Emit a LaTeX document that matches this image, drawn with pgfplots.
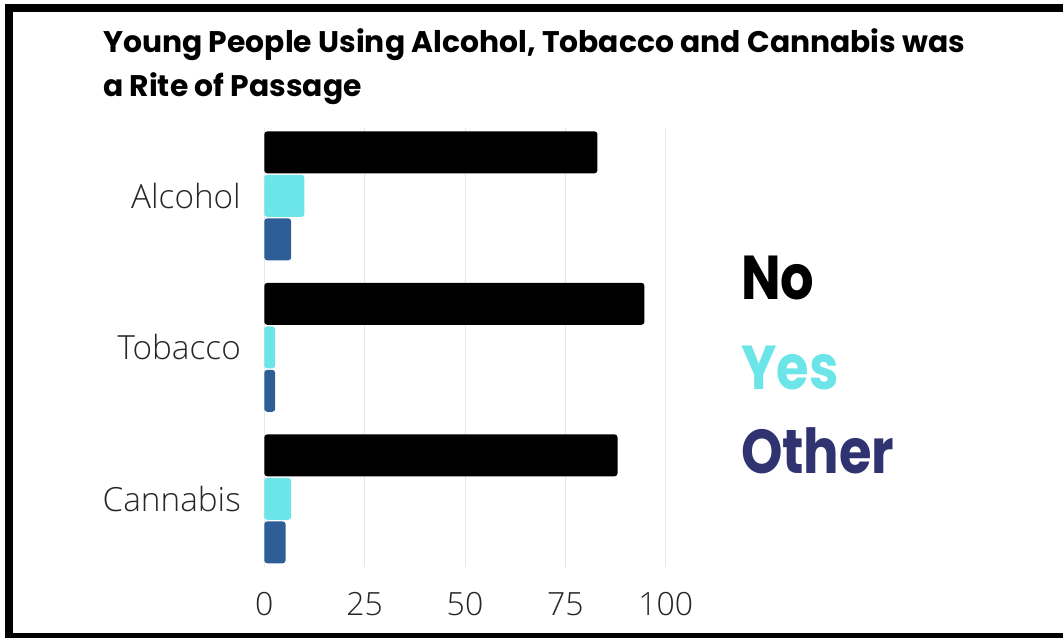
\documentclass[border=0pt]{standalone}
\usepackage{pgfplots}
\pgfplotsset{compat=1.18}
\usepackage{fontspec}
\setmainfont{Open Sans Light}
\newfontfamily\titlefont{Poppins}
\definecolor{cyanbar}{HTML}{6CE5E8}
\definecolor{bluebar}{HTML}{2E5E98}
\definecolor{navytext}{HTML}{2F3470}
\definecolor{gridgray}{HTML}{E6E6E6}
\begin{document}
\begin{tikzpicture}[x=1pt,y=1pt]
\path[use as bounding box] (0,0) rectangle (1063,638);
\fill[black] (5,626) rectangle (1063,634);
\fill[black] (5,0) rectangle (13,634);
\fill[black] (13,0) rectangle (1063,5);
\node[anchor=base west, inner sep=0pt, font=\titlefont\bfseries\fontsize{29.8}{34}\selectfont] at (103,585) {Young People Using Alcohol, Tobacco and Cannabis was};
\node[anchor=base west, inner sep=0pt, font=\titlefont\bfseries\fontsize{29.8}{34}\selectfont] at (103,541) {a Rite of Passage};
\begin{axis}[
  at={(264.3pt,71pt)}, anchor=south west,
  scale only axis, width=401.4pt, height=439.35pt,
  xbar, xmin=0, xmax=100, ymin=-0.45, ymax=2.45,
  bar width=42pt,
  ytick={0,1,2}, yticklabels={Cannabis,Tobacco,Alcohol},
  xtick={0,25,50,75,100},
  xmajorgrids, grid style={gridgray, line width=1pt},
  axis line style={draw=none},
  major tick length=0pt,
  /pgf/number format/assume math mode=true,
  tick label style={font=\fontsize{32}{32}\selectfont, color=black!85},
  xticklabel style={anchor=north, yshift=-22pt},
  yticklabel style={anchor=east, xshift=-20pt, font=\fontsize{33.3}{33.3}\selectfont},
]
\addplot[fill=black, draw=none, rounded corners=3pt, bar shift=43.5pt] coordinates {(83,2) (94.7,1) (88,0)};
\addplot[fill=cyanbar, draw=none, rounded corners=3pt, bar shift=0pt] coordinates {(10,2) (2.7,1) (6.7,0)};
\addplot[fill=bluebar, draw=none, rounded corners=3pt, bar shift=-43.5pt] coordinates {(6.7,2) (2.7,1) (5.3,0)};
\end{axis}
\node[anchor=base west, inner sep=0pt, xscale=0.85, font=\titlefont\bfseries\fontsize{62}{62}\selectfont] at (741,338) {No};
\node[anchor=base west, inner sep=0pt, xscale=0.85, text=cyanbar, font=\titlefont\bfseries\fontsize{62}{62}\selectfont] at (741,248) {Yes};
\node[anchor=base west, inner sep=0pt, xscale=0.85, text=navytext, font=\titlefont\bfseries\fontsize{62}{62}\selectfont] at (741,165) {Other};
\end{tikzpicture}
\end{document}
